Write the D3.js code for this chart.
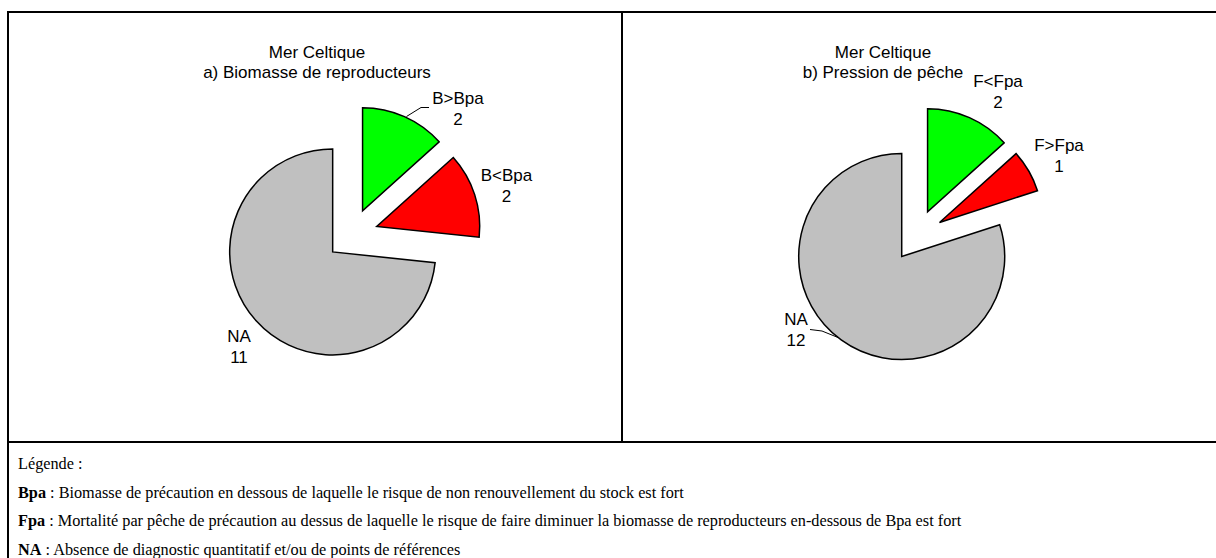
<!DOCTYPE html>
<html>
<head>
<meta charset="utf-8">
<script src="https://cdnjs.cloudflare.com/ajax/libs/d3/7.8.5/d3.min.js"></script>
<style>
  html, body { margin: 0; padding: 0; background: #fff; }
  svg { display: block; }
</style>
</head>
<body>
<svg id="chart" width="1216" height="558"></svg>
<script>
// ---- data ----
const titleRegion = "Mer Celtique";
const biomassTitle = "a) Biomasse de reproducteurs";
const biomassCategories = ["B>Bpa", "B<Bpa", "NA"];
const biomassValues = [2, 2, 11];

const pressureTitle = "b) Pression de pêche";
const pressureCategories = ["F<Fpa", "F>Fpa", "NA"];
const pressureValues = [2, 1, 12];

const sliceColors = ["#00FF00", "#FF0000", "#C0C0C0"];

const legendTitle = "Légende :";
const legendTerms = ["Bpa", "Fpa", "NA"];
const legendTexts = [
  " : Biomasse de précaution en dessous de laquelle le risque de non renouvellement du stock est fort",
  " : Mortalité par pêche de précaution au dessus de laquelle le risque de faire diminuer la biomasse de reproducteurs en-dessous de Bpa est fort",
  " : Absence de diagnostic quantitatif et/ou de points de références"
];

// ---- layout ----
const W = 1216, H = 558;
const svg = d3.select("#chart");
const sansFont = "'Liberation Sans', Arial, Helvetica, sans-serif";
const serifFont = "'Liberation Serif', 'Times New Roman', Times, serif";

// frame: top rule, left rule, panel divider, rule above legend
const frame = svg.append("g").attr("stroke", "#000").attr("stroke-width", 2).attr("fill", "none");
frame.append("line").attr("x1", 8).attr("y1", 12).attr("x2", W).attr("y2", 12);
frame.append("line").attr("x1", 8).attr("y1", 11).attr("x2", 8).attr("y2", H);
frame.append("line").attr("x1", 622).attr("y1", 12).attr("x2", 622).attr("y2", 442);
frame.append("line").attr("x1", 8).attr("y1", 442).attr("x2", W).attr("y2", 442);

const radius = 103;
const explode = 26;

const pie = d3.pie().sort(null).value(d => d).startAngle(0).endAngle(2 * Math.PI);
const arc = d3.arc().innerRadius(0).outerRadius(radius);

function drawPanel(cfg) {
  const g = svg.append("g");

  // two-line title
  const t = g.append("text")
    .attr("font-family", sansFont).attr("font-size", 17)
    .attr("text-anchor", "middle").attr("fill", "#000");
  t.append("tspan").attr("x", cfg.titleX).attr("y", 57.5).text(titleRegion);
  t.append("tspan").attr("x", cfg.titleX).attr("y", 77.5).text(cfg.title);

  const arcs = pie(cfg.values);
  const pieG = g.append("g").attr("transform", `translate(${cfg.cx},${cfg.cy})`);

  pieG.selectAll("path.slice")
    .data(arcs)
    .join("path")
    .attr("class", "slice")
    .attr("transform", d => {
      const m = (d.startAngle + d.endAngle) / 2;
      return `translate(${explode * Math.sin(m)},${-explode * Math.cos(m)})`;
    })
    .attr("d", arc)
    .attr("fill", (d, i) => sliceColors[i])
    .attr("stroke", "#000")
    .attr("stroke-width", 1.5)
    .attr("stroke-linejoin", "miter");

  // category / value labels
  arcs.forEach((d, i) => {
    const pos = cfg.labelPos[i];
    const lt = g.append("text")
      .attr("font-family", sansFont).attr("font-size", 17)
      .attr("text-anchor", "middle").attr("fill", "#000");
    lt.append("tspan").attr("x", pos[0]).attr("y", pos[1]).text(cfg.categories[i]);
    lt.append("tspan").attr("x", pos[0]).attr("y", pos[1] + 21).text(d.data);
  });

  // leader lines
  cfg.leaders.forEach(pts => {
    g.append("path")
      .attr("d", d3.line()(pts))
      .attr("fill", "none").attr("stroke", "#000").attr("stroke-width", 1);
  });
}

drawPanel({
  title: biomassTitle,
  titleX: 317,
  cx: 352, cy: 234.5,
  values: biomassValues,
  categories: biomassCategories,
  labelPos: [[458, 103.5], [506.5, 181], [239, 341.5]],
  leaders: [[[429, 107.5], [421, 107.5], [406.5, 116.5]]]
});

drawPanel({
  title: pressureTitle,
  titleX: 883,
  cx: 917, cy: 235.5,
  values: pressureValues,
  categories: pressureCategories,
  labelPos: [[998, 87], [1059, 151], [796, 325]],
  leaders: [[[810, 329.5], [822, 331], [838, 337.5]]]
});

// legend block: tall, slightly condensed serif text
const legendSize = 17;
const legendCondense = 0.956;
const legend = svg.append("g")
  .attr("font-family", serifFont).attr("font-size", legendSize).attr("fill", "#000");

function condense(sel) {
  const len = sel.node().getComputedTextLength();
  sel.attr("textLength", len * legendCondense).attr("lengthAdjust", "spacingAndGlyphs");
}

condense(legend.append("text").attr("x", 18).attr("y", 469).text(legendTitle));
const legendY = [498, 526, 555];
legendTerms.forEach((term, i) => {
  const tx = legend.append("text").attr("x", 18).attr("y", legendY[i]);
  tx.append("tspan").attr("font-weight", "bold").text(term);
  tx.append("tspan").text(legendTexts[i]);
  condense(tx);
});
</script>
</body>
</html>
